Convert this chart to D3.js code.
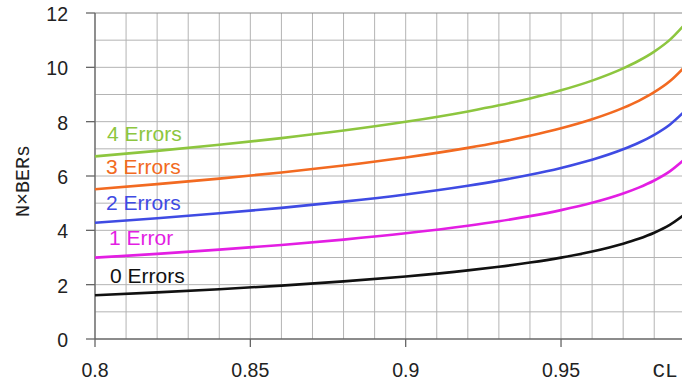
<!DOCTYPE html>
<html><head><meta charset="utf-8">
<script src="https://cdn.jsdelivr.net/npm/d3@7"></script>
<style>body{margin:0;background:#fff}svg{display:block}</style>
</head><body>
<svg id="c" width="682" height="383"></svg>
<script>
const cl = [0.80,0.82,0.84,0.86,0.88,0.90,0.92,0.93,0.94,0.95,0.96,0.97,0.975,0.98,0.985,0.99];
const err0 = [1.609,1.715,1.833,1.966,2.120,2.303,2.526,2.659,2.813,2.996,3.219,3.507,3.689,3.912,4.200,4.605];
const err1 = [2.994,3.135,3.290,3.462,3.659,3.890,4.169,4.333,4.522,4.744,5.013,5.356,5.572,5.834,6.170,6.638];
const err2 = [4.279,4.444,4.626,4.827,5.056,5.322,5.642,5.830,6.044,6.296,6.599,6.984,7.225,7.517,7.889,8.406];
const err3 = [5.515,5.701,5.905,6.130,6.385,6.681,7.035,7.242,7.478,7.754,8.086,8.506,8.768,9.085,9.487,10.045];
const err4 = [6.721,6.925,7.148,7.394,7.672,7.994,8.377,8.601,8.856,9.154,9.511,9.962,10.242,10.580,11.011,11.605];
const seriesNames = ["0 Errors","1 Error","2 Errors","3 Errors","4 Errors"];
const seriesColors = ["#111111","#e31ee3","#3f4be3","#f26a21","#8dc63f"];
const yTicks = [0,2,4,6,8,10,12];
const xTicks = [0.8,0.85,0.9,0.95];
const xTickLabels = ["0.8","0.85","0.9","0.95"];

const svg = d3.select("#c");
const x = d3.scaleLinear().domain([0.8,0.99]).range([95,685.3]);
const y = d3.scaleLinear().domain([0,12]).range([339,13]);

const g = svg.append("g");
g.selectAll(".vg").data(d3.range(0,20).map(i=>0.8+i*0.01)).enter().append("line")
  .attr("x1",d=>x(d)).attr("x2",d=>x(d)).attr("y1",y(0)).attr("y2",y(12))
  .attr("stroke","#b4b4b4").attr("stroke-width",1);
g.selectAll(".hg").data(d3.range(1,13)).enter().append("line")
  .attr("x1",x(0.8)).attr("x2",682).attr("y1",d=>y(d)).attr("y2",d=>y(d))
  .attr("stroke",d=>d===12?"#888":"#b4b4b4").attr("stroke-width",1);
svg.append("line").attr("x1",x(0.8)).attr("x2",x(0.8)).attr("y1",y(0)).attr("y2",y(12)).attr("stroke","#666").attr("stroke-width",1.3);
svg.append("line").attr("x1",x(0.8)).attr("x2",682).attr("y1",y(0)).attr("y2",y(0)).attr("stroke","#666").attr("stroke-width",1.3);
svg.selectAll(".yt").data(yTicks).enter().append("line")
  .attr("x1",86).attr("x2",x(0.8)).attr("y1",d=>y(d)).attr("y2",d=>y(d)).attr("stroke","#666").attr("stroke-width",1.3);
svg.selectAll(".xt").data(xTicks).enter().append("line")
  .attr("x1",d=>x(d)).attr("x2",d=>x(d)).attr("y1",y(0)).attr("y2",y(0)+8).attr("stroke","#666").attr("stroke-width",1.3);
svg.selectAll(".yl").data(yTicks).enter().append("text")
  .attr("x",68).attr("y",d=>y(d)+8).attr("text-anchor","end")
  .attr("font-family","Liberation Sans, Arial, sans-serif").attr("font-size",19.5).attr("fill","#222")
  .text(d=>d);
svg.selectAll(".xl").data(xTicks).enter().append("text")
  .attr("x",d=>x(d)).attr("y",377).attr("text-anchor","middle")
  .attr("font-family","Liberation Sans, Arial, sans-serif").attr("font-size",19.5).attr("fill","#222")
  .text((d,i)=>xTickLabels[i]);
svg.append("text").attr("x",665).attr("y",377).attr("text-anchor","middle")
  .attr("font-family","'Liberation Mono', 'Courier New', monospace").attr("font-size",21).attr("fill","#222").text("CL");
svg.append("text").attr("transform","translate(29,181) rotate(-90)").attr("text-anchor","middle")
  .attr("font-family","'Liberation Mono', 'Courier New', monospace").attr("font-size",20).attr("fill","#222").text("N×BERs");

const all = [err0,err1,err2,err3,err4];
const line = d3.line().x((d,i)=>x(cl[i])).y(d=>y(d)).curve(d3.curveMonotoneX);
svg.append("g").selectAll("path").data(all).enter().append("path")
  .attr("d",line).attr("fill","none").attr("stroke",(d,i)=>seriesColors[i]).attr("stroke-width",2.6);

const labelPos = [[110,283],[109,245],[106,210],[106,174],[107,141]];
svg.selectAll(".ll").data(seriesNames).enter().append("text")
  .attr("x",(d,i)=>labelPos[i][0]).attr("y",(d,i)=>labelPos[i][1])
  .attr("font-family","Liberation Sans, Arial, sans-serif").attr("font-size",21)
  .attr("fill",(d,i)=>seriesColors[i]).text(d=>d);
</script>
</body></html>
